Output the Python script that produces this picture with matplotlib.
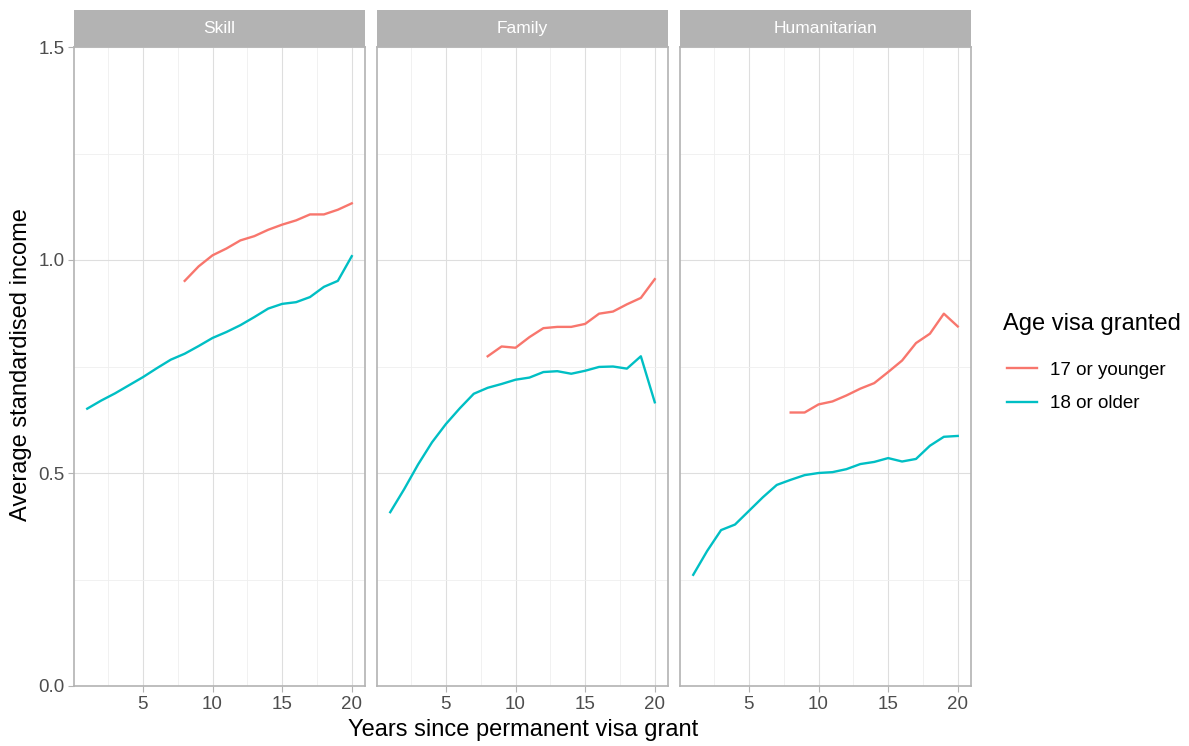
import matplotlib.pyplot as plt
import numpy as np

plt.rcParams['font.family'] = ['Liberation Sans', 'DejaVu Sans']

# Data
panels = ['Skill', 'Family', 'Humanitarian']
years_older = list(range(1, 21))
years_younger = list(range(8, 21))

older = {
    'Skill': [0.651, 0.670, 0.687, 0.706, 0.725, 0.746, 0.766, 0.780, 0.798, 0.817,
              0.831, 0.847, 0.866, 0.886, 0.897, 0.901, 0.913, 0.937, 0.951, 1.009],
    'Family': [0.408, 0.462, 0.520, 0.572, 0.615, 0.652, 0.686, 0.700, 0.709, 0.719,
               0.724, 0.737, 0.739, 0.733, 0.740, 0.749, 0.750, 0.745, 0.774, 0.666],
    'Humanitarian': [0.261, 0.317, 0.366, 0.379, 0.411, 0.443, 0.472, 0.484, 0.495, 0.500,
                     0.502, 0.509, 0.521, 0.526, 0.535, 0.527, 0.533, 0.564, 0.585, 0.587],
}
younger = {
    'Skill': [0.951, 0.985, 1.011, 1.027, 1.046, 1.056, 1.071, 1.083, 1.093, 1.107,
              1.107, 1.118, 1.133],
    'Family': [0.774, 0.797, 0.794, 0.819, 0.840, 0.843, 0.843, 0.850, 0.874, 0.879,
               0.896, 0.911, 0.955],
    'Humanitarian': [0.642, 0.642, 0.661, 0.668, 0.682, 0.698, 0.711, 0.737, 0.764, 0.805,
                     0.827, 0.874, 0.844],
}
legend_title = 'Age visa granted'
legend_labels = ['17 or younger', '18 or older']

red = '#F8766D'
teal = '#00BFC4'
border = '#B3B3B3'

W, H = 1189, 746
fig = plt.figure(figsize=(W / 100, H / 100), dpi=100)

lefts = [74, 377, 680]
pw = 291
top, bottom = 47, 686

for i, name in enumerate(panels):
    ax = fig.add_axes([lefts[i] / W, (H - bottom) / H, pw / W, (bottom - top) / H])
    ax.set_xlim(0.05, 20.95)
    ax.set_ylim(0, 1.5)
    ax.set_xticks([5, 10, 15, 20])
    ax.set_xticks([2.5, 7.5, 12.5, 17.5], minor=True)
    ax.set_yticks([0, 0.5, 1.0, 1.5])
    ax.set_yticks([0.25, 0.75, 1.25], minor=True)
    ax.grid(which='major', color='#DEDEDE', lw=0.8)
    ax.grid(which='minor', color='#EFEFEF', lw=0.6)
    ax.set_axisbelow(True)
    for s in ax.spines.values():
        s.set_color(border)
        s.set_linewidth(1.2)
    ax.tick_params(which='major', color=border, length=4, width=0.8,
                   labelsize=13.5, labelcolor='#4D4D4D', pad=3)
    ax.tick_params(which='minor', length=0)
    if i == 0:
        ax.set_yticklabels(['0.0', '0.5', '1.0', '1.5'])
    else:
        ax.tick_params(axis='y', which='major', length=0, labelleft=False)

    ax.plot(years_younger, younger[name], color=red, lw=1.7)
    ax.plot(years_older, older[name], color=teal, lw=1.7)

    # facet strip
    sax = fig.add_axes([lefts[i] / W, (H - top) / H, pw / W, 37 / H])
    sax.set_facecolor(border)
    sax.set_xticks([])
    sax.set_yticks([])
    for s in sax.spines.values():
        s.set_visible(False)
    sax.text(0.5, 0.5, name, ha='center', va='center', color='white', fontsize=12.5,
             transform=sax.transAxes)

fig.text(523 / W, (H - 730) / H, 'Years since permanent visa grant', ha='center', va='center',
         fontsize=17, color='black')
fig.text(21 / W, (H - 365) / H, 'Average standardised income', ha='center', va='center',
         rotation=90, fontsize=17, color='black')

# legend title drawn separately to control its gap to the keys
fig.text(1003 / W, (H - 324) / H, legend_title, ha='left', va='center', fontsize=17)
handles = [plt.Line2D([], [], color=red, lw=1.7), plt.Line2D([], [], color=teal, lw=1.7)]
fig.legend(handles, legend_labels, loc='upper left', bbox_to_anchor=(990 / W, (H - 345) / H),
           frameon=False, fontsize=13.5, handlelength=1.6, handletextpad=0.7,
           labelspacing=0.85)

fig.savefig('out.png', dpi=100)
